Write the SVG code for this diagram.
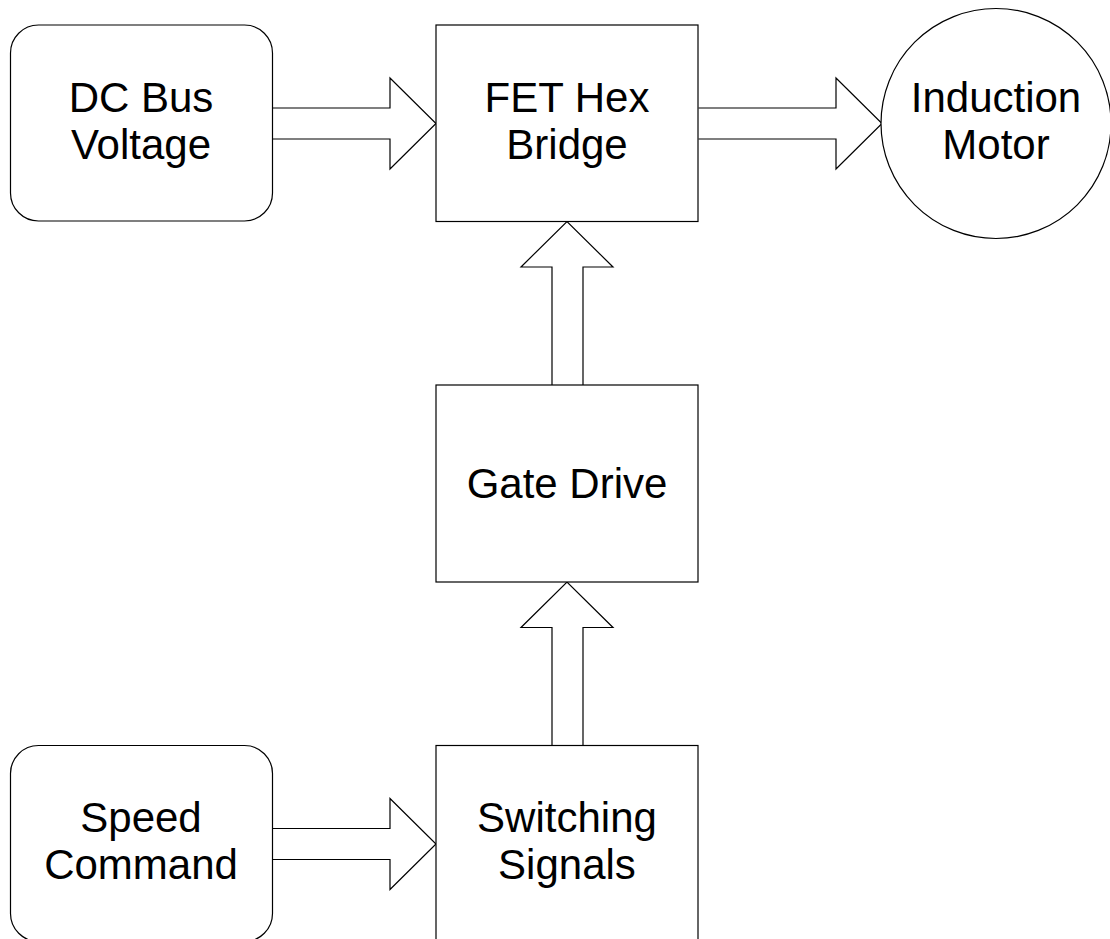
<svg xmlns="http://www.w3.org/2000/svg" width="1110" height="939" viewBox="0 0 1110 939">
<style>
.box{fill:#fff;stroke:#000;stroke-width:1.2}
.arr{fill:#fff;stroke:#000;stroke-width:1.2;stroke-linejoin:miter}
.t{font-family:"Liberation Sans",Arial,sans-serif;font-size:42px;fill:#000;text-anchor:middle}
</style>
<rect width="1110" height="939" fill="#fff"/>
<g id="connectors">
<path class="arr" d="M272.5,108 H390 V78 L436,123.5 L390,169 V139 H272.5"/>
<path class="arr" d="M698.5,108 H836 V78 L882,123.5 L836,169 V139 H698.5"/>
<path class="arr" d="M552,385 V267 H521 L567,221.5 L613,267 H583 V385"/>
<path class="arr" d="M552,745.5 V627.5 H521 L567,582 L613,627.5 H583 V745.5"/>
<path class="arr" d="M272.5,828.5 H390 V798.5 L436,844 L390,889.5 V859.5 H272.5"/>
</g>
<g id="dc-bus">
<rect class="box" x="10.5" y="25" width="262" height="196" rx="28" ry="28"/>
<text class="t" x="141" y="111.5">DC Bus</text>
<text class="t" x="141" y="158.5">Voltage</text>
</g>
<g id="fet-bridge">
<rect class="box" x="436" y="25" width="262" height="196.5"/>
<text class="t" x="567" y="111.5">FET Hex</text>
<text class="t" x="567" y="158.5">Bridge</text>
</g>
<g id="motor">
<circle class="box" cx="996" cy="123.5" r="115"/>
<text class="t" x="996" y="111.5">Induction</text>
<text class="t" x="996" y="158.5">Motor</text>
</g>
<g id="gate-drive">
<rect class="box" x="436" y="385" width="262" height="197"/>
<text class="t" x="567" y="498">Gate Drive</text>
</g>
<g id="speed-command">
<rect class="box" x="10.5" y="745.5" width="262" height="196" rx="28" ry="28"/>
<text class="t" x="141" y="832">Speed</text>
<text class="t" x="141" y="879">Command</text>
</g>
<g id="switching-signals">
<rect class="box" x="436" y="745.5" width="262" height="196"/>
<text class="t" x="567" y="832">Switching</text>
<text class="t" x="567" y="879">Signals</text>
</g>
</svg>
